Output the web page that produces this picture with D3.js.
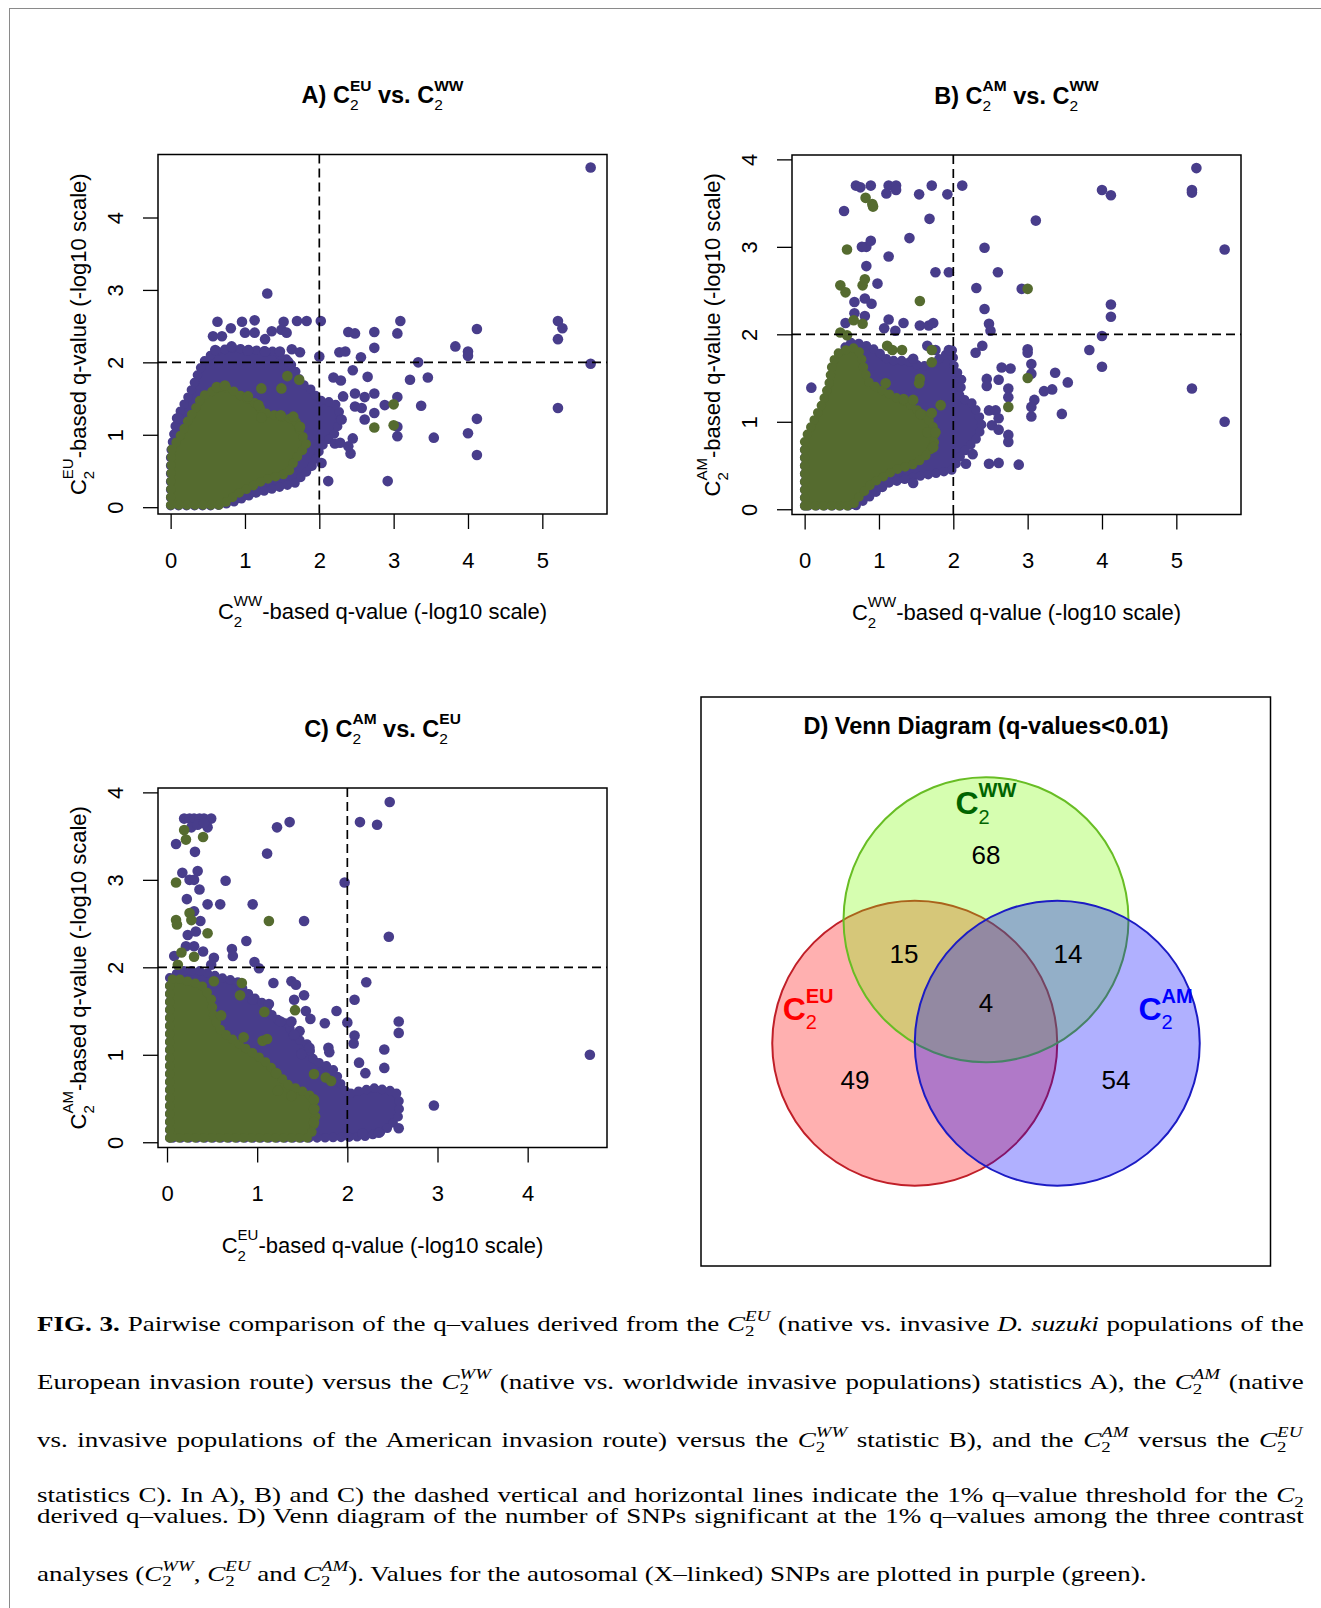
<!DOCTYPE html>
<meta charset="utf-8">

<!-- Load d3.js -->
<script src="https://d3js.org/d3.v7.min.js"></script>

<style>
  body { margin: 0; background: #fff; }
  svg text { font-family: "Liberation Sans", Arial, Helvetica, sans-serif; fill: #000; }
  svg .caption text { font-family: "Liberation Serif", "Times New Roman", serif; }
</style>

<div id="fig"></div>

<script>

  // ---- data (-log10 q-values) ----
  // dense blobs are kept as outlines, isolated SNPs as points

  // A) C2EU (y) vs. C2WW (x)
  var aAutoCore = [[0.00,0.02],[0.00,0.75],[0.08,1.23],[0.26,1.57],[0.39,1.90],[0.46,2.03],[0.60,2.15],[0.82,2.20],[1.13,2.17],[1.40,2.15],[1.58,2.03],[1.67,1.90],[1.76,1.71],[1.90,1.62],[1.99,1.48],[2.21,1.44],[2.30,1.25],[2.21,1.02],[2.03,0.84],[1.90,0.56],[1.67,0.33],[1.13,0.19],[0.82,0.06],[0.60,0.02]];
  var aAutoPts = [[5.65,4.69],[1.30,2.95],[5.21,2.57],[5.27,2.47],[5.21,2.32],[5.65,1.98],[5.21,1.37],[4.12,2.46],[3.83,2.22],[4.00,2.15],[4.00,2.09],[4.12,1.22],[4.00,1.02],[4.12,0.72],[3.09,2.57],[3.05,2.40],[2.74,2.42],[2.74,2.20],[2.39,2.42],[2.48,2.40],[2.27,2.14],[2.35,2.15],[2.56,2.07],[3.33,2.00],[3.22,1.76],[3.46,1.79],[2.65,1.80],[2.45,1.89],[2.19,1.79],[2.29,1.75],[2.02,2.57],[2.00,2.08],[3.05,1.52],[3.37,1.40],[2.88,1.41],[3.05,1.11],[3.05,0.98],[3.54,0.96],[2.92,0.36],[2.12,0.36],[2.42,0.74],[2.39,0.84],[2.21,0.88],[2.28,0.89],[2.45,0.95],[2.61,1.21],[2.74,1.30],[2.61,1.52],[2.48,1.57],[2.32,1.53],[2.74,1.57],[2.03,0.61],[2.48,1.39],[2.57,1.37],[2.30,1.21],
    [0.63,2.56],[0.57,2.36],[0.69,2.36],[0.81,2.47],[0.96,2.56],[1.00,2.41],[1.13,2.58],[1.13,2.41],[1.27,2.32],[1.36,2.43],[1.52,2.56],[1.49,2.45],[1.56,2.41],[1.70,2.57],[1.83,2.57],[0.60,2.17],[0.82,2.22],[1.04,2.16],[1.27,2.15],[1.47,2.15],[1.63,2.18],[1.74,2.14],[1.58,2.01],[0.10,1.23]];
  var aXCore = [[0.00,0.03],[0.01,0.79],[0.15,1.02],[0.24,1.21],[0.35,1.39],[0.42,1.53],[0.60,1.62],[0.69,1.67],[0.82,1.62],[0.96,1.53],[1.13,1.44],[1.27,1.30],[1.49,1.25],[1.67,1.21],[1.76,1.02],[1.83,0.86],[1.67,0.65],[1.58,0.47],[1.27,0.38],[0.91,0.19],[0.69,0.03]];
  var aXPts = [[0.62,1.66],[0.73,1.68],[1.04,1.53],[1.18,1.41],[1.22,1.64],[1.49,1.64],[1.57,1.81],[1.73,1.76],[1.48,1.27],[1.22,1.24],[1.65,1.25],[1.74,1.11],[3.00,1.42],[3.00,1.13],[2.74,1.10]];

  // B) C2AM (y) vs. C2WW (x)
  var bAutoCore = [[0.00,0.04],[0.00,0.71],[0.10,0.94],[0.24,1.09],[0.33,1.28],[0.42,1.47],[0.46,1.66],[0.51,1.82],[0.60,1.91],[0.78,1.89],[0.96,1.82],[1.13,1.70],[1.36,1.70],[1.58,1.63],[1.67,1.66],[1.85,1.74],[1.99,1.82],[2.01,1.63],[2.12,1.47],[2.08,1.28],[2.26,1.21],[2.35,1.06],[2.39,0.94],[2.30,0.79],[2.12,0.64],[1.99,0.45],[1.76,0.41],[1.49,0.37],[1.13,0.30],[0.87,0.14],[0.69,0.04]];
  var bAutoPts = [[0.69,3.70],[0.89,3.70],[1.13,3.70],[1.23,3.70],[1.71,3.70],[2.12,3.70],[0.75,3.68],[1.10,3.61],[1.23,3.65],[1.54,3.60],[1.92,3.60],[0.53,3.41],[1.68,3.32],[3.11,3.30],[4.00,3.65],[4.12,3.59],[5.21,3.65],[5.21,3.62],[5.27,3.90],[5.65,2.97],[5.65,1.00],[5.21,1.38],[4.12,2.34],[4.12,2.20],[4.00,1.98],[3.83,1.82],[4.00,1.63],[3.46,1.09],[3.54,1.45],[3.37,1.56],[3.33,1.37],[3.22,1.35],[3.05,1.06],[3.09,1.25],[3.05,1.17],[3.00,1.83],[3.00,1.79],[3.05,1.66],[3.05,1.55],[2.88,0.51],[2.74,0.85],[2.74,0.77],[2.74,1.38],[2.74,1.28],[2.65,1.62],[2.77,1.61],[2.61,1.48],[2.45,1.49],[2.45,1.41],[2.48,1.13],[2.57,1.13],[2.61,1.04],[2.52,0.96],[2.61,0.91],[2.30,1.79],[2.39,1.87],[2.48,2.12],[2.50,2.04],[2.42,2.29],[2.31,2.53],[2.42,2.99],[2.60,2.71],[2.92,2.52],[1.76,2.71],[1.94,2.71],[1.41,3.10],[0.83,3.00],[0.89,3.07],[0.77,3.00],[0.83,2.78],[0.98,2.58],[1.13,2.89],[0.81,2.41],[0.90,2.35],[0.67,2.37],[0.67,2.24],[0.81,2.21],[0.55,2.13],[1.07,2.07],[1.13,2.17],[1.22,2.04],[1.33,2.13],[1.55,2.10],[1.67,2.10],[1.73,2.13],[1.46,1.72],[1.65,1.87],[1.76,1.82],[1.94,1.82],[0.09,1.39],[1.46,0.30],[2.26,0.63],[2.48,0.52],[2.61,0.53],[2.17,0.52]];
  var bXCore = [[0.00,0.04],[0.00,0.79],[0.15,1.06],[0.24,1.21],[0.33,1.44],[0.37,1.66],[0.44,1.78],[0.55,1.82],[0.69,1.85],[0.75,1.78],[0.80,1.59],[0.87,1.44],[1.04,1.36],[1.22,1.28],[1.40,1.21],[1.58,1.09],[1.72,0.98],[1.76,0.79],[1.67,0.64],[1.49,0.52],[1.22,0.45],[0.91,0.30],[0.73,0.14],[0.64,0.04]];
  var bXPts = [[0.82,3.56],[0.91,3.49],[0.92,3.46],[0.57,2.97],[0.48,2.56],[0.55,2.48],[0.78,2.56],[0.81,2.63],[1.55,2.38],[0.66,2.16],[0.78,2.12],[0.48,2.02],[0.57,1.99],[3.00,2.52],[3.00,1.50],[2.74,1.17],[1.71,1.82],[1.71,1.68],[1.11,1.87],[1.18,1.82],[1.31,1.82],[1.55,1.49],[1.54,1.44],[1.09,1.44],[1.33,1.26],[1.46,1.25],[1.83,1.19],[1.56,1.09],[1.71,1.10],[1.65,0.88],[1.76,0.88],[1.73,0.71]];

  // C) C2AM (y) vs. C2EU (x)
  var cAutoCore = [[0.03,0.05],[0.03,1.88],[0.16,1.96],[0.38,1.96],[0.60,1.88],[0.78,1.84],[0.86,1.73],[0.97,1.65],[1.08,1.58],[1.19,1.42],[1.34,1.35],[1.41,1.20],[1.56,1.12],[1.63,0.93],[1.74,0.89],[1.86,0.82],[1.93,0.66],[2.00,0.55],[2.15,0.59],[2.30,0.62],[2.41,0.60],[2.54,0.58],[2.58,0.45],[2.57,0.30],[2.50,0.21],[2.41,0.13],[2.23,0.07],[2.08,0.06],[1.71,0.05]];
  var cAutoPts = [[0.19,3.70],[0.25,3.70],[0.30,3.70],[0.36,3.70],[0.41,3.70],[0.49,3.70],[0.27,3.60],[0.34,3.63],[0.45,3.60],[0.41,3.65],[0.10,3.41],[0.31,3.32],[0.34,3.10],[0.17,3.08],[0.25,3.00],[0.30,3.00],[0.36,2.89],[0.22,2.78],[0.45,2.72],[0.59,2.72],[0.65,2.99],[1.11,3.30],[1.22,3.60],[1.36,3.66],[2.14,3.66],[2.33,3.63],[2.47,3.89],[1.97,2.97],[0.95,2.72],[1.52,2.53],[2.46,2.35],[0.88,2.30],[0.72,2.21],[0.73,2.13],[0.97,2.06],[1.02,1.99],[0.37,2.53],[0.30,2.64],[0.23,2.37],[0.32,2.41],[0.21,2.24],[0.30,2.24],[0.08,2.13],[0.40,2.18],[0.52,2.11],[0.49,2.03],[2.21,1.83],[2.08,1.63],[1.88,1.50],[1.75,1.36],[2.00,1.37],[2.57,1.38],[2.57,1.25],[2.41,1.06],[2.41,0.85],[2.08,1.22],[2.07,1.13],[2.13,0.91],[2.20,0.79],[2.96,0.42],[4.69,1.00],[2.57,0.16],[2.35,0.11],[2.17,0.10],[1.18,1.82],[1.38,1.84],[1.43,1.80],[0.95,1.63],[1.13,1.58],[1.41,1.63],[1.52,1.68],[1.54,1.50],[1.59,1.41],[1.49,1.01],[1.58,1.08],[1.79,1.08],[1.80,1.03],[1.47,1.27],[1.41,1.23],[1.26,1.38],[1.38,1.38]];
  var cXCore = [[0.03,0.05],[0.03,1.84],[0.08,1.88],[0.23,1.84],[0.38,1.80],[0.49,1.65],[0.52,1.42],[0.60,1.27],[0.75,1.16],[0.86,1.08],[0.97,1.01],[1.08,0.93],[1.19,0.82],[1.34,0.66],[1.49,0.59],[1.63,0.51],[1.65,0.28],[1.60,0.09],[1.56,0.05]];
  var cXPts = [[0.19,3.57],[0.21,3.46],[0.40,3.49],[0.10,2.97],[0.10,2.54],[0.11,2.49],[0.25,2.62],[0.27,2.54],[0.45,2.39],[0.16,2.17],[0.30,2.12],[0.12,2.03],[1.13,2.53],[0.83,1.82],[0.81,1.68],[0.52,1.84],[0.60,1.45],[1.08,1.49],[1.42,1.51],[0.85,1.20],[1.06,1.16],[1.11,1.18],[1.21,0.79],[1.63,0.78],[1.76,0.74],[1.82,0.70],[1.63,0.49],[1.63,0.38],[1.63,0.23],[1.23,0.59],[1.38,0.53]];

  var ticks05 = [0, 1, 2, 3, 4, 5];
  var ticks04 = [0, 1, 2, 3, 4];
  var threshold = 2;   // -log10(0.01)

  // D) Venn counts
  var vennSets = ["EU", "WW", "AM"];
  var vennRegions = ["WW", "EU&WW", "WW&AM", "EU&WW&AM", "EU", "AM"];
  var vennCounts = [68, 15, 14, 4, 49, 54];

  var captionLines = [
    "**FIG. 3.** Pairwise comparison of the q–values derived from the {EU} (native vs. invasive *D. suzuki* populations of the",
    "European invasion route) versus the {WW} (native vs. worldwide invasive populations) statistics A), the {AM} (native",
    "vs. invasive populations of the American invasion route) versus the {WW} statistic B), and the {AM} versus the {EU}",
    "statistics C). In A), B) and C) the dashed vertical and horizontal lines indicate the 1% q–value threshold for the {}",
    "derived q–values. D) Venn diagram of the number of SNPs significant at the 1% q–values among the three contrast",
    "analyses ({WW}, {EU} and {AM}). Values for the autosomal (X–linked) SNPs are plotted in purple (green)."
  ];

  // ---- layout ----
  var PURPLE = "#483D8B", GREEN = "#556B2F";
  var W = 449, H = 359.5, DOT = 5.3;

  var panels = [
    {id: "A", left: 158, top: 154.5, xdom: [-0.17, 5.87], ydom: [-0.094, 4.87], xt: ticks05, yt: ticks04,
     xs: "WW", ys: "EU", auto: [aAutoCore, aAutoPts], xl: [aXCore, aXPts]},
    {id: "B", left: 792, top: 155, xdom: [-0.17, 5.87], ydom: [-0.06, 4.05], xt: ticks05, yt: ticks04,
     xs: "WW", ys: "AM", auto: [bAutoCore, bAutoPts], xl: [bXCore, bXPts]},
    {id: "C", left: 158, top: 788, xdom: [-0.10, 4.88], ydom: [-0.06, 4.05], xt: ticks04, yt: ticks04,
     xs: "EU", ys: "AM", auto: [cAutoCore, cAutoPts], xl: [cXCore, cXPts]}
  ];

  var svg = d3.select("#fig").append("svg")
    .attr("width", 1321)
    .attr("height", 1608);

  // page edge lines
  svg.append("line").attr("x1", 9).attr("x2", 1321).attr("y1", 8.5).attr("y2", 8.5).attr("stroke", "#8a8a8a");
  svg.append("line").attr("x1", 9.5).attr("x2", 9.5).attr("y1", 8.5).attr("y2", 1608).attr("stroke", "#8a8a8a");

  // C with subscript 2 and a superscript, appended as tspans; returns dy back to baseline
  function cSym(t, sup, o) {
    t.append("tspan").text("C")
      .style("font-size", o.size + "px").style("font-weight", o.bold ? "bold" : "normal")
      .style("font-style", o.italic ? "italic" : "normal");
    t.append("tspan").text("2").attr("dy", o.subDy)
      .style("font-size", o.small + "px").style("font-weight", "normal").style("font-style", "normal");
    if (sup) {
      t.append("tspan").text(sup).attr("dx", -o.small * o.digit).attr("dy", -o.subDy - o.supUp)
        .style("font-size", o.small + "px").style("font-weight", o.supBold ? "bold" : "normal")
        .style("font-style", o.italic ? "italic" : "normal");
      return o.supUp;
    }
    return -o.subDy;
  }
  function plain(t, str, o, dy) {
    t.append("tspan").text(str).attr("dy", dy || 0)
      .style("font-size", o.size + "px").style("font-weight", o.bold ? "bold" : "normal")
      .style("font-style", o.italic ? "italic" : "normal");
  }

  var titleTxt = {size: 23.5, bold: true};
  var titleC = {size: 23.5, bold: true, small: 15.5, supBold: true, subDy: 7, supUp: 12.5, digit: 0.556};
  var axTxt = {size: 22};
  var axC = {size: 22, small: 15, subDy: 8, supUp: 13, digit: 0.556};

  function drawPanel(p) {
    var g = svg.append("g").attr("transform", "translate(" + p.left + "," + p.top + ")");
    var x = d3.scaleLinear().domain(p.xdom).range([0, W]);
    var y = d3.scaleLinear().domain(p.ydom).range([H, 0]);

    g.append("clipPath").attr("id", "clip" + p.id)
      .append("rect").attr("width", W).attr("height", H);
    var plot = g.append("g").attr("clip-path", "url(#clip" + p.id + ")");

    var outline = d3.line().x(function(d){ return x(d[0]) }).y(function(d){ return y(d[1]) })
      .curve(d3.curveLinearClosed);

    // autosomal first, X-linked on top
    [[p.auto, PURPLE], [p.xl, GREEN]].forEach(function(s) {
      plot.append("path")
        .attr("d", outline(s[0][0]))
        .attr("fill", s[1])
        .attr("stroke", s[1])
        .attr("stroke-width", 3)
        .attr("stroke-linejoin", "round");
      // dotted rim so the blob edge reads as overlapping points
      plot.append("path")
        .attr("d", outline(s[0][0]))
        .attr("fill", "none")
        .attr("stroke", s[1])
        .attr("stroke-width", DOT * 1.8)
        .attr("stroke-linecap", "round")
        .attr("stroke-dasharray", "0,8");
      plot.selectAll(null)
        .data(s[0][1])
        .enter()
        .append("circle")
          .attr("cx", function(d){ return x(d[0]) })
          .attr("cy", function(d){ return y(d[1]) })
          .attr("r", DOT)
          .attr("fill", s[1]);
    });

    // 1% thresholds
    plot.append("line").attr("x1", x(threshold)).attr("x2", x(threshold)).attr("y1", 0).attr("y2", H)
      .attr("stroke", "#000").attr("stroke-width", 1.7).attr("stroke-dasharray", "9,5");
    plot.append("line").attr("x1", 0).attr("x2", W).attr("y1", y(threshold)).attr("y2", y(threshold))
      .attr("stroke", "#000").attr("stroke-width", 1.7).attr("stroke-dasharray", "9,5");

    g.append("rect").attr("width", W).attr("height", H)
      .attr("fill", "none").attr("stroke", "#000").attr("stroke-width", 1.5);

    // axes
    var xa = g.append("g").attr("transform", "translate(0," + H + ")")
      .call(d3.axisBottom(x).tickValues(p.xt).tickSize(15).tickPadding(23).tickFormat(d3.format("d")));
    xa.select(".domain").remove();
    xa.selectAll("line").attr("stroke-width", 1.3);
    xa.selectAll("text").style("font-size", "22px");

    var ya = g.append("g")
      .call(d3.axisLeft(y).tickValues(p.yt).tickSize(15).tickFormat(d3.format("d")));
    ya.select(".domain").remove();
    ya.selectAll("line").attr("stroke-width", 1.3);
    ya.selectAll("text")
      .attr("x", null).attr("dy", null)
      .attr("text-anchor", "middle")
      .attr("transform", "translate(-35,0) rotate(-90)")
      .style("font-size", "22px");

    // title
    var t = g.append("text").attr("x", W / 2).attr("y", -51.5).attr("text-anchor", "middle");
    plain(t, p.id + ") ", titleTxt);
    var back = cSym(t, p.ys, titleC);
    plain(t, " vs. ", titleTxt, back);
    cSym(t, p.xs, titleC);

    // axis titles
    var xt = g.append("text").attr("x", W / 2).attr("y", H + 105).attr("text-anchor", "middle");
    back = cSym(xt, p.xs, axC);
    plain(xt, "-based q-value (-log10 scale)", axTxt, back);

    var yt = g.append("text").attr("text-anchor", "middle")
      .attr("transform", "translate(-72," + (H / 2) + ") rotate(-90)");
    back = cSym(yt, p.ys, axC);
    plain(yt, "-based q-value (-log10 scale)", axTxt, back);
  }

  panels.forEach(drawPanel);

  // ---- D) Venn diagram ----
  var vg = svg.append("g");
  vg.append("rect").attr("x", 701).attr("y", 697).attr("width", 569.5).attr("height", 569)
    .attr("fill", "none").attr("stroke", "#000").attr("stroke-width", 1.5);
  vg.append("text").attr("x", 986).attr("y", 733.5).attr("text-anchor", "middle")
    .style("font-size", "23.5px").style("font-weight", "bold")
    .text("D) Venn Diagram (q-values<0.01)");

  var vc = {x: 986, y: 1002}, vr = 142.5;
  var setAngle = {EU: 150, WW: -90, AM: 30};
  var setFill = {EU: "#ff0000", WW: "#7cfc00", AM: "#0000ff"};
  var setStroke = {EU: "#c01f28", WW: "#68bd24", AM: "#1c1cc4"};
  var setText = {EU: "#ff0000", WW: "#006400", AM: "#0000ff"};
  var setLabelAt = {EU: [-1.427, 0.125], WW: [-0.214, -1.319], AM: [1.07, 0.125]};
  var regionAt = {"WW": [0, -1.032], "EU&WW": [-0.575, -0.341], "WW&AM": [0.575, -0.341],
                  "EU&WW&AM": [0, 0.007], "EU": [-0.919, 0.547], "AM": [0.912, 0.547]};

  function setCentre(s) {
    var a = setAngle[s] * Math.PI / 180, d = vr / Math.sqrt(3);
    return [vc.x + d * Math.cos(a), vc.y + d * Math.sin(a)];
  }

  vg.selectAll(null)
    .data(vennSets)
    .enter()
    .append("circle")
      .attr("cx", function(d){ return setCentre(d)[0] })
      .attr("cy", function(d){ return setCentre(d)[1] })
      .attr("r", vr)
      .attr("fill", function(d){ return setFill[d] })
      .attr("fill-opacity", 0.31)
      .attr("stroke", function(d){ return setStroke[d] })
      .attr("stroke-width", 2);

  vg.selectAll(null)
    .data(vennRegions)
    .enter()
    .append("text")
      .attr("x", function(d){ return vc.x + regionAt[d][0] * vr })
      .attr("y", function(d){ return vc.y + regionAt[d][1] * vr + 9.4 })
      .attr("text-anchor", "middle")
      .style("font-size", "26px")
      .text(function(d, i){ return vennCounts[i] });

  var vennC = {size: 32, bold: true, small: 20, supBold: true, subDy: 9.5, supUp: 17, digit: 0.556};
  vennSets.forEach(function(s) {
    var t = vg.append("text")
      .attr("x", vc.x + setLabelAt[s][0] * vr)
      .attr("y", vc.y + setLabelAt[s][1] * vr)
      .style("fill", setText[s]);
    cSym(t, s, vennC);
  });

  // ---- caption ----
  // the original is set in a wide TeX face; a serif stretched sideways stands in for it
  var capY = [1331, 1389, 1447, 1502, 1523, 1581];
  var capLeft = 37, capRight = 1304, lastLineEnd = 1200, capSize = 21.5;
  var capC = {size: capSize, italic: true, small: capSize * 0.7, subDy: capSize * 0.25, supUp: capSize * 0.45, digit: 0.5};
  var cg = svg.append("g").attr("class", "caption");

  var capRows = captionLines.map(function(line, i) {
    var row = cg.append("g");
    var t = row.append("text");
    var parts = line.split(/(\{[A-Z]*\}|\*\*[^*]+\*\*|\*[^*]+\*)/).filter(function(s){ return s.length });
    var dy = 0;
    parts.forEach(function(s) {
      if (s[0] === "{") {
        t.append("tspan").attr("dy", dy).text("");
        dy = cSym(t, s.slice(1, -1), capC);
      } else if (s.slice(0, 2) === "**") {
        plain(t, s.slice(2, -2), {size: capSize, bold: true}, dy); dy = 0;
      } else if (s[0] === "*") {
        plain(t, s.slice(1, -1), {size: capSize, italic: true}, dy); dy = 0;
      } else {
        plain(t, s, {size: capSize}, dy); dy = 0;
      }
    });
    return {row: row, text: t, w: t.node().getBBox().width};
  });

  var nRows = capRows.length;
  var sx = d3.min(capRows, function(r, i) {
    var target = i === nRows - 1 ? lastLineEnd - capLeft : (capRight - capLeft) * 0.985;
    return target / r.w;
  });
  capRows.forEach(function(r, i) {
    r.row.attr("transform", "translate(" + capLeft + "," + capY[i] + ") scale(" + sx + ",1)");
    if (i === nRows - 1) return;
    var spaces = r.text.node().textContent.split(" ").length - 1;
    r.text.style("word-spacing", Math.max(0, ((capRight - capLeft) / sx - r.w) / spaces) + "px");
  });

</script>
